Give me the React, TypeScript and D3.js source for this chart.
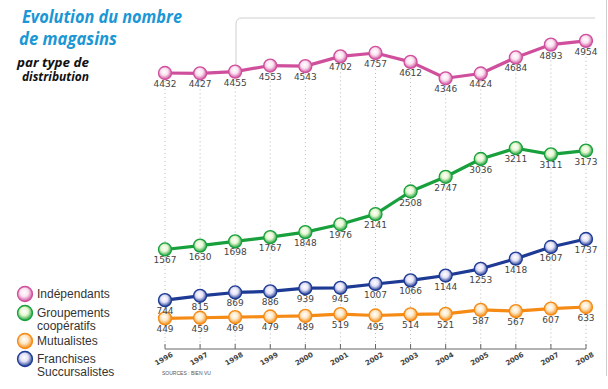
import React from 'react';
import * as d3 from 'd3';

const YEARS = ['1996', '1997', '1998', '1999', '2000', '2001', '2002', '2003', '2004', '2005', '2006', '2007', '2008'];
const INDEPENDANTS = [4432, 4427, 4455, 4553, 4543, 4702, 4757, 4612, 4346, 4424, 4684, 4893, 4954];
const GROUPEMENTS = [1567, 1630, 1698, 1767, 1848, 1976, 2141, 2508, 2747, 3036, 3211, 3111, 3173];
const FRANCHISES = [744, 815, 869, 886, 939, 945, 1007, 1066, 1144, 1253, 1418, 1607, 1737];
const MUTUALISTES = [449, 459, 469, 479, 489, 519, 495, 514, 521, 587, 567, 607, 633];

const SERIES = [
  { key: 'ind', values: INDEPENDANTS, color: '#cf4f9c', light: '#fbe3f1' },
  { key: 'grp', values: GROUPEMENTS, color: '#17a03c', light: '#e6f6cf' },
  { key: 'fra', values: FRANCHISES, color: '#1d3a94', light: '#e4e2f6' },
  { key: 'mut', values: MUTUALISTES, color: '#f58a14', light: '#fde9c8' },
];

const LEGEND = [
  { lines: ['Indépendants'], color: '#cf4f9c', key: 'ind' },
  { lines: ['Groupements', 'coopératifs'], color: '#17a03c', key: 'grp' },
  { lines: ['Mutualistes'], color: '#f58a14', key: 'mut' },
  { lines: ['Franchises', 'Succursalistes'], color: '#1d3a94', key: 'fra' },
];
const LEGEND_Y = [294, 313, 341, 359];

const W = 608;
const H = 389;

class App extends React.Component {
  render() {
    const x = d3.scalePoint().domain(YEARS).range([165, 586]);
    const y = d3.scaleLinear().domain([0, 5000]).range([346, 38]);
    const axisY = 349;
    const line = d3.line<number>()
      .x((d, i) => x(YEARS[i]) as number)
      .y(d => y(d));

    const grads = SERIES.map(s => (
      <radialGradient key={'g' + s.key} id={'grad-' + s.key} cx="45%" cy="40%" r="60%">
        <stop offset="0%" stopColor="#ffffff" />
        <stop offset="45%" stopColor={s.light} />
        <stop offset="100%" stopColor={s.color} />
      </radialGradient>
    ));

    // dotted verticals from the top series down to the axis
    const grid = YEARS.map((yr, i) => (
      <line
        key={'grid' + yr}
        x1={x(yr)} x2={x(yr)}
        y1={y(INDEPENDANTS[i])} y2={axisY}
        stroke="#b8b8b8" strokeWidth={1} strokeDasharray="1,3"
      />
    ));

    const lines = SERIES.map(s => (
      <g key={'s' + s.key}>
        <path d={line(s.values) as string} fill="none" stroke={s.color} strokeWidth={3.2} strokeLinejoin="round" />
        {s.values.map((v, i) => (
          <circle key={i} cx={x(YEARS[i])} cy={y(v)} r={6.5}
            fill={`url(#grad-${s.key})`} stroke={s.color} strokeWidth={1.3} />
        ))}
      </g>
    ));

    // value labels drawn on top of every series
    const labels = SERIES.map(s => (
      <g key={'l' + s.key}>
        {s.values.map((v, i) => (
          <text key={'t' + i} x={x(YEARS[i])} y={y(v) + 14}
            textAnchor="middle" fontSize={9} fill="#444"
            fontFamily="DejaVu Sans, sans-serif">{v}</text>
        ))}
      </g>
    ));

    const xaxis = (
      <g>
        <line x1={165} x2={586} y1={axisY} y2={axisY} stroke="#666" strokeWidth={1} />
        {YEARS.map(yr => (
          <g key={'tk' + yr}>
            <line x1={x(yr)} x2={x(yr)} y1={axisY} y2={axisY - 5} stroke="#666" strokeWidth={1} />
            <text transform={`translate(${x(yr)}, ${axisY + 12}) rotate(-30)`}
              textAnchor="middle" fontSize={7} fontWeight="bold" fill="#444"
              fontFamily="DejaVu Sans, sans-serif">{yr}</text>
          </g>
        ))}
        <text x={162} y={375} fontSize={5} fill="#555" fontFamily="Liberation Sans, sans-serif">SOURCES : BIEN VU</text>
      </g>
    );

    const legend = LEGEND.map((l, i) => (
      <g key={'lg' + l.key}>
        <circle cx={25} cy={LEGEND_Y[i]} r={7.5} fill={`url(#grad-${l.key})`} stroke={l.color} strokeWidth={1.3} />
        {l.lines.map((t, j) => (
          <text key={j} x={37} y={LEGEND_Y[i] + 4 + j * 12.5} fontSize={12} fill="#333"
            fontFamily="Liberation Sans, Arial, sans-serif">{t}</text>
        ))}
      </g>
    ));

    return (
      <svg width={W} height={H} style={{ position: 'absolute', left: 0, top: 0, background: '#fff' }}>
        <defs>{grads}</defs>
        <rect width={W} height={H} fill="#fff" />
        <path d="M236,70 L236,24 Q236,18 242,18 L595,18" fill="none" stroke="#cfcfcf" strokeWidth={1} />
        <line x1={606.5} x2={606.5} y1={0} y2={376} stroke="#cfcfcf" strokeWidth={1} />
        <text x={22} y={23} fontSize={18} fontWeight="bold" fontStyle="italic" fill="#1a97d4"
          fontFamily="Open Sans, sans-serif" textLength={160} lengthAdjust="spacingAndGlyphs">Evolution du nombre</text>
        <text x={19} y={45} fontSize={18} fontWeight="bold" fontStyle="italic" fill="#1a97d4"
          fontFamily="Open Sans, sans-serif" textLength={98} lengthAdjust="spacingAndGlyphs">de magasins</text>
        <text x={17} y={67} fontSize={11.5} fontWeight="bold" fontStyle="italic" fill="#111"
          fontFamily="Open Sans, sans-serif" textLength={72} lengthAdjust="spacingAndGlyphs">par type de</text>
        <text x={22} y={81} fontSize={11.5} fontWeight="bold" fontStyle="italic" fill="#111"
          fontFamily="Open Sans, sans-serif" textLength={67} lengthAdjust="spacingAndGlyphs">distribution</text>
        {grid}
        {xaxis}
        {lines}
        {labels}
        {legend}
      </svg>
    );
  }
}

export default App;
